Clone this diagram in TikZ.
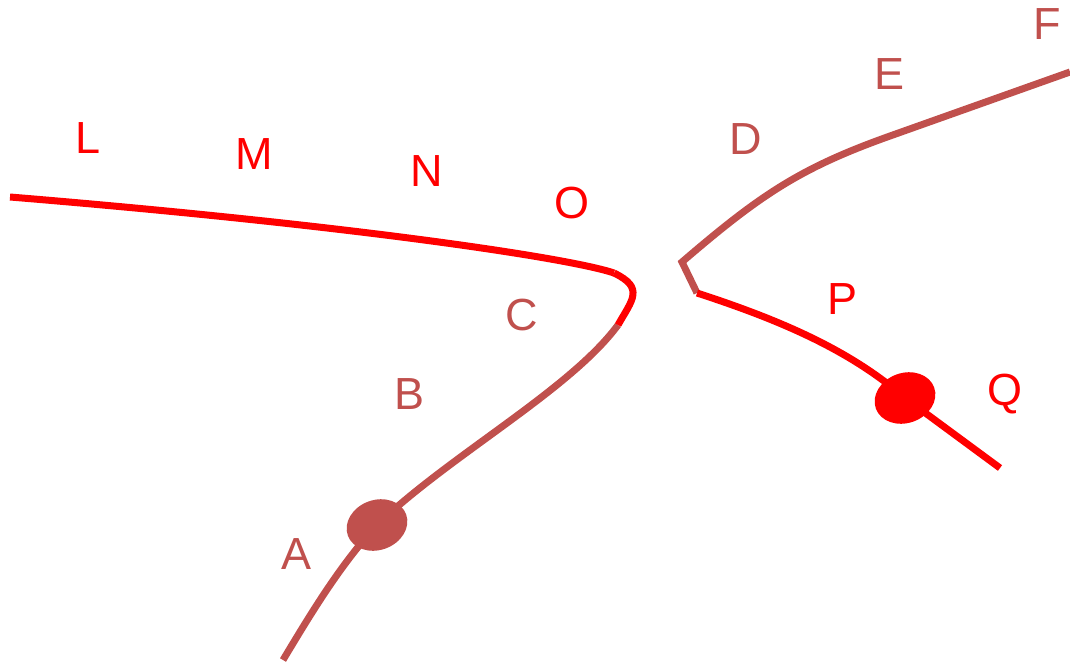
\documentclass[tikz,border=0pt]{standalone}
\usepackage{fontspec}
\setmainfont{Liberation Sans}
\usetikzlibrary{shapes.geometric}
\definecolor{dred}{HTML}{C0504D}
\definecolor{bred}{HTML}{FF0000}
\begin{document}
\begin{tikzpicture}[x=1pt,y=-1pt,
  wire/.style={line width=7pt},
  blob/.style={ellipse, minimum width=62pt, minimum height=50pt, inner sep=0pt, rotate=20},
  lab/.style={font=\fontsize{45}{45}\selectfont, inner sep=0pt}]
\useasboundingbox (0,0) rectangle (1070,663);
% anchor points of the wires
\coordinate (a0) at (283,660);
\coordinate (ca) at (377,525);
\coordinate (c1) at (618,325);
\coordinate (o1) at (614,273);
\coordinate (l0) at (10,197);
\coordinate (f0) at (1070,72);
\coordinate (e1) at (890,136);
\coordinate (d1) at (682,262);
\coordinate (p0) at (697,293);
\coordinate (cq) at (905,398);
\coordinate (q0) at (1000,468);
% left wire
\draw[wire, dred] (a0) .. controls (310,615) and (340,565) .. (ca)
  .. controls (450,455) and (570,390) .. (c1);
\draw[wire, bred] (c1) .. controls (632,300) and (645,288) .. (o1);
\draw[wire, bred] (o1) .. controls (570,258) and (350,225) .. (l0);
% right wire
\draw[wire, dred, line join=miter] (f0) -- (e1) .. controls (800,168) and (760,195) .. (d1) -- (p0);
\draw[wire, bred] (p0) .. controls (780,320) and (850,350) .. (cq) -- (q0);
% beads on the wires
\node[blob, fill=dred] (ea) at (ca) {};
\node[blob, fill=bred] (eq) at (cq) {};
% labels
\node[lab, bred] (L) at (88,138) {L};
\node[lab, bred] (M) at (254,154) {M};
\node[lab, bred] (N) at (427,171) {N};
\node[lab, bred] (O) at (572,203) {O};
\node[lab, dred] (C) at (522,315) {C};
\node[lab, dred] (B) at (410,394) {B};
\node[lab, dred] (A) at (297,554) {A};
\node[lab, dred] (D) at (746,139) {D};
\node[lab, dred] (E) at (889,74) {E};
\node[lab, dred] (F) at (1047,24) {F};
\node[lab, bred] (P) at (842,299) {P};
\node[lab, bred] (Q) at (1005,394) {Q};
\end{tikzpicture}
\end{document}
